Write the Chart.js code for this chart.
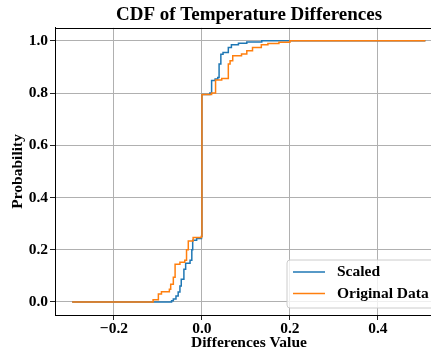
<!DOCTYPE html>
<html><head><meta charset="utf-8">
<script src="https://cdn.jsdelivr.net/npm/chart.js@4.4.1/dist/chart.umd.min.js"></script>
<style>
html,body{margin:0;padding:0;background:#fff;overflow:hidden}
#wrap{width:431px;height:351px;overflow:hidden;position:relative;background:#fff}
canvas{display:block}
</style></head>
<body><div id="wrap"><canvas id="c" width="499" height="351"></canvas></div>
<script>
const titleText = 'CDF of Temperature Differences';
const xTitle = 'Differences Value';
const yTitle = 'Probability';
const seriesNames = ['Scaled', 'Original Data'];
const seriesColors = ['#1f77b4', '#ff7f0e'];

const scaledX = [-0.295,-0.069,-0.065,-0.059,-0.054,-0.050,-0.047,-0.041,-0.037,-0.027,-0.023,-0.021,-0.012,-0.001,0.000,0.018,0.022,0.030,0.036,0.039,0.043,0.048,0.060,0.067,0.083,0.102,0.136,0.508];
const scaledY = [0,0.005,0.011,0.023,0.038,0.061,0.087,0.125,0.148,0.160,0.200,0.236,0.243,0.251,0.795,0.800,0.848,0.854,0.860,0.911,0.949,0.955,0.975,0.985,0.991,0.996,1.0,1.0];

const originalX = [-0.295,-0.111,-0.099,-0.092,-0.074,-0.071,-0.065,-0.061,-0.050,-0.039,-0.035,-0.031,-0.020,-0.001,0.000,0.022,0.031,0.045,0.060,0.064,0.070,0.090,0.102,0.115,0.135,0.150,0.175,0.200,0.508];
const originalY = [0,0.008,0.030,0.039,0.049,0.068,0.095,0.144,0.152,0.160,0.200,0.233,0.247,0.252,0.795,0.800,0.850,0.856,0.911,0.924,0.943,0.950,0.962,0.975,0.985,0.990,0.995,1.0,1.0];

const xTicks = [-0.2, 0, 0.2, 0.4];
const yTicks = [0, 0.2, 0.4, 0.6, 0.8, 1.0];
const xRange = [-0.334, 0.548];
const yRange = [-0.05, 1.05];

const FONT = "'Liberation Serif', 'Times New Roman', serif";
Chart.defaults.font.family = FONT;
Chart.defaults.font.weight = 'bold';
Chart.defaults.color = '#000';

function pts(xs, ys){ return xs.map((x,i)=>({x:x, y:ys[i]})); }
function fmt(v){ const s = Math.abs(v).toFixed(1); return v < -1e-9 ? '\u2212' + s : s; }

const frameAndLegend = {
  id: 'frameAndLegend',
  afterDraw(chart){
    const ctx = chart.ctx, a = chart.chartArea;
    ctx.save();
    ctx.strokeStyle = '#000'; ctx.lineWidth = 1;
    ctx.beginPath();
    ctx.moveTo(a.left, Math.round(a.top)+0.5); ctx.lineTo(a.right, Math.round(a.top)+0.5);
    ctx.moveTo(Math.round(a.right)-0.5, a.top); ctx.lineTo(Math.round(a.right)-0.5, a.bottom);
    ctx.stroke();
    const bw = 148, bh = 48;
    const bx = a.right - 8 - bw, by = a.bottom - 7 - bh;
    ctx.beginPath();
    const r = 3;
    ctx.moveTo(bx+r, by); ctx.lineTo(bx+bw-r, by); ctx.arcTo(bx+bw, by, bx+bw, by+r, r);
    ctx.lineTo(bx+bw, by+bh-r); ctx.arcTo(bx+bw, by+bh, bx+bw-r, by+bh, r);
    ctx.lineTo(bx+r, by+bh); ctx.arcTo(bx, by+bh, bx, by+bh-r, r);
    ctx.lineTo(bx, by+r); ctx.arcTo(bx, by, bx+r, by, r);
    ctx.closePath();
    ctx.fillStyle = 'rgba(255,255,255,0.8)'; ctx.fill();
    ctx.strokeStyle = '#cccccc'; ctx.lineWidth = 1; ctx.stroke();
    ctx.font = 'bold 15.5px ' + FONT;
    ctx.textBaseline = 'middle'; ctx.textAlign = 'left';
    chart.data.datasets.forEach((ds, i) => {
      const y = by + 12 + i * 21.5;
      ctx.strokeStyle = ds.borderColor; ctx.lineWidth = 1.5;
      ctx.beginPath(); ctx.moveTo(bx+6, y); ctx.lineTo(bx+38, y); ctx.stroke();
      ctx.fillStyle = '#000';
      ctx.fillText(ds.label, bx+50, y);
    });
    ctx.restore();
  }
};

new Chart(document.getElementById('c'), {
  type: 'line',
  data: {
    datasets: [
      { label: seriesNames[0], data: pts(scaledX, scaledY), borderColor: seriesColors[0], backgroundColor: seriesColors[0], borderWidth: 1.5, pointRadius: 0, stepped: 'before', fill: false, order: 1 },
      { label: seriesNames[1], data: pts(originalX, originalY), borderColor: seriesColors[1], backgroundColor: seriesColors[1], borderWidth: 1.5, pointRadius: 0, stepped: 'before', fill: false, order: 0 }
    ]
  },
  options: {
    responsive: false,
    animation: false,
    devicePixelRatio: 1,
    layout: { padding: { left: 0, right: 56, top: 0, bottom: 0 } },
    plugins: {
      legend: { display: false },
      tooltip: { enabled: false },
      title: { display: true, text: titleText, fullSize: false, color: '#000',
        font: { size: 19, weight: 'bold', family: FONT }, padding: { top: 4, bottom: 1 } }
    },
    scales: {
      x: {
        type: 'linear', min: xRange[0], max: xRange[1],
        afterBuildTicks: s => { s.ticks = xTicks.map(v => ({ value: v })); },
        afterFit: s => { s.height = 36; },
        ticks: { callback: v => fmt(v), font: { size: 15.5, weight: 'bold', family: FONT, lineHeight: 1.1 }, padding: 0, color: '#000', maxRotation: 0 },
        grid: { color: '#b0b0b0', lineWidth: 1, tickColor: '#222', tickLength: 5, drawTicks: true },
        border: { display: true, color: '#000', width: 1 },
        title: { display: true, text: xTitle, color: '#000', font: { size: 15.5, weight: 'bold', family: FONT }, padding: { top: 0, bottom: -1 } }
      },
      y: {
        type: 'linear', min: yRange[0], max: yRange[1],
        afterBuildTicks: s => { s.ticks = yTicks.map(v => ({ value: v })); },
        afterFit: s => { s.width = 55; },
        ticks: { callback: v => fmt(v), font: { size: 15.5, weight: 'bold', family: FONT }, padding: 2, color: '#000' },
        grid: { color: '#b0b0b0', lineWidth: 1, tickColor: '#222', tickLength: 5, drawTicks: true },
        border: { display: true, color: '#000', width: 1 },
        title: { display: true, text: yTitle, color: '#000', font: { size: 15.5, weight: 'bold', family: FONT }, padding: { top: 9, bottom: 0 } }
      }
    }
  },
  plugins: [frameAndLegend]
});
</script>
</body></html>
